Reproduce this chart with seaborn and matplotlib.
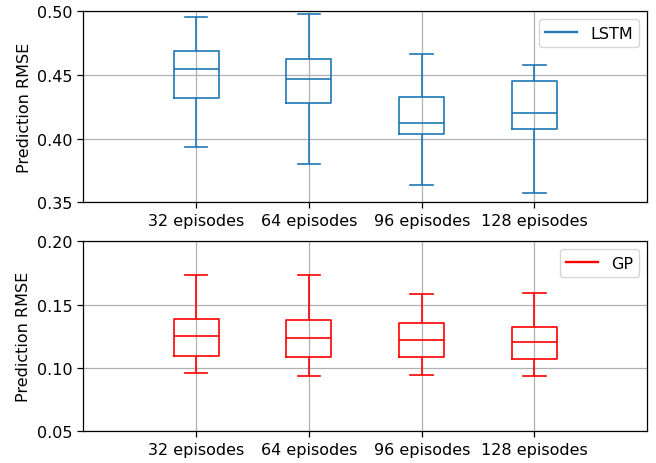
import matplotlib
matplotlib.use("Agg")
import matplotlib.pyplot as plt
from matplotlib.lines import Line2D
import pandas as pd
import seaborn as sns

categories = ["32 episodes", "64 episodes", "96 episodes", "128 episodes"]

# five-number summaries per episode budget: min, Q1, median, Q3, max
lstm_min = [0.3934, 0.3800, 0.3637, 0.3574]
lstm_q1 = [0.4319, 0.4282, 0.4039, 0.4076]
lstm_med = [0.4545, 0.4471, 0.4121, 0.4200]
lstm_q3 = [0.4687, 0.4624, 0.4327, 0.4455]
lstm_max = [0.4957, 0.4979, 0.4661, 0.4579]

gp_min = [0.0963, 0.0939, 0.0947, 0.0937]
gp_q1 = [0.1097, 0.1089, 0.1089, 0.1071]
gp_med = [0.1250, 0.1234, 0.1224, 0.1207]
gp_q3 = [0.1387, 0.1379, 0.1355, 0.1321]
gp_max = [0.1736, 0.1736, 0.1584, 0.1594]


def long_frame(*cols):
    rows = []
    for i, cat in enumerate(categories):
        for col in cols:
            rows.append({"episodes": cat, "rmse": col[i]})
    return pd.DataFrame(rows)


lstm_df = long_frame(lstm_min, lstm_q1, lstm_med, lstm_q3, lstm_max)
gp_df = long_frame(gp_min, gp_q1, gp_med, gp_q3, gp_max)

FS = 11.5

fig = plt.figure(figsize=(6.56, 4.64), dpi=100)
ax1 = fig.add_axes([0.127, 0.5618, 0.8597, 0.4117])
ax2 = fig.add_axes([0.127, 0.0683, 0.8597, 0.4095])

panels = [
    (ax1, lstm_df, "#1f77b4", "LSTM", (0.35, 0.50), [0.35, 0.40, 0.45, 0.50]),
    (ax2, gp_df, "#ff0000", "GP", (0.05, 0.20), [0.05, 0.10, 0.15, 0.20]),
]

for ax, df, color, label, ylim, yticks in panels:
    sns.boxplot(data=df, x="episodes", y="rmse", order=categories, ax=ax,
                fill=False, color=color, width=0.4, whis=(0, 100),
                linewidth=1.2, showfliers=False)
    for line in ax.lines:
        line.set_color(color)
    for p in ax.patches:
        p.set_edgecolor(color)
    ax.set_axisbelow(True)
    ax.grid(True, axis="both", color="#b0b0b0", linewidth=0.9)
    ax.set_xlim(-1, 4)
    ax.set_ylim(*ylim)
    ax.set_yticks(yticks)
    ax.set_yticklabels([f"{t:.2f}" for t in yticks])
    ax.set_xlabel("")
    ax.set_ylabel("Prediction RMSE", fontsize=FS)
    ax.tick_params(labelsize=FS, length=4.2, width=0.9)
    for s in ax.spines.values():
        s.set_visible(True)
        s.set_color("black")
        s.set_linewidth(0.9)
    ax.legend([Line2D([0], [0], color=color, linewidth=1.7)], [label],
              loc="upper right", fontsize=FS)

fig.savefig("out.png", dpi=100)
